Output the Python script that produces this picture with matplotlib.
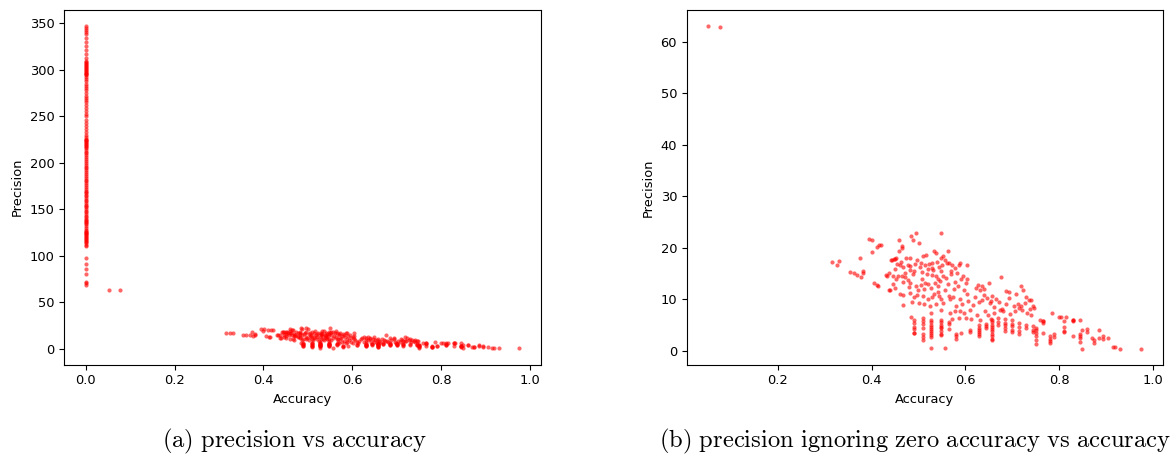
import matplotlib.pyplot as plt

plt.rcParams['mathtext.fontset'] = 'cm'

# precision of runs where accuracy == 0
zero_acc_prec = [69, 70.5, 72, 80.5, 86, 91, 97.5, 110, 112, 114, 115, 116, 117, 118,
                 119, 120, 121, 122, 123, 124, 125, 126, 127, 128, 130, 132, 134, 135,
                 136, 137, 138, 140, 142, 143, 145, 147, 148, 150, 152, 154, 155, 157,
                 159, 160, 162, 164, 165, 167, 169, 170, 172, 174, 176, 178, 180, 182,
                 184, 186, 188, 190, 192, 194, 196, 198, 200, 202, 204, 206, 208, 210,
                 212, 214, 216, 217, 218, 219, 220, 221, 222, 223, 224, 225, 226, 228,
                 230, 233, 236, 240, 243, 246, 250, 253, 256, 259, 262, 265, 268, 270,
                 272, 275, 278, 280, 283, 285, 288, 290, 292, 294, 295, 296, 297, 298,
                 299, 300, 301, 302, 303, 304, 305, 306, 307, 308, 310, 313, 317, 321,
                 326, 330, 334, 338, 341, 343, 345, 347]

# (accuracy, precision) for non-zero accuracy
outliers = [(0.052, 63.0), (0.0775, 62.8)]
low_acc = [(0.316, 17.2), (0.326, 16.6), (0.331, 17.4), (0.355, 15.2), (0.362, 15.0),
           (0.369, 14.7), (0.375, 17.9), (0.381, 15.0), (0.382, 15.5), (0.377, 14.2),
           (0.395, 21.6), (0.402, 21.4), (0.400, 19.1), (0.405, 13.2), (0.412, 12.8),
           (0.411, 20.2), (0.417, 20.6), (0.421, 20.5), (0.414, 12.6), (0.431, 14.6),
           (0.432, 14.5), (0.437, 11.8), (0.440, 11.7), (0.444, 17.6), (0.450, 17.7),
           (0.453, 17.9), (0.442, 17.5), (0.447, 17.7)]
upper_band = [(0.495, 22.8), (0.485, 22.3), (0.488, 21.4), (0.549, 22.8), (0.459, 21.5),
              (0.501, 20.8), (0.465, 20.3), (0.466, 19.9), (0.533, 19.4), (0.537, 19.0),
              (0.564, 19.4), (0.459, 19.4), (0.474, 17.9), (0.482, 17.9), (0.497, 17.6),
              (0.510, 18.3), (0.517, 18.6), (0.505, 17.0), (0.514, 16.6), (0.529, 17.0),
              (0.540, 17.2), (0.548, 17.9), (0.553, 18.3), (0.557, 17.6), (0.566, 17.0),
              (0.572, 16.6), (0.586, 16.6), (0.589, 17.0), (0.603, 16.6), (0.461, 16.6),
              (0.468, 16.3), (0.477, 16.6), (0.483, 16.5), (0.450, 15.8), (0.438, 15.0),
              (0.446, 14.5), (0.457, 14.4), (0.465, 14.4), (0.472, 15.0), (0.482, 15.7),
              (0.491, 15.4), (0.508, 15.2), (0.521, 15.8), (0.529, 16.0), (0.544, 16.3),
              (0.548, 15.4), (0.553, 14.4), (0.559, 14.1), (0.570, 15.4), (0.570, 14.9),
              (0.582, 15.0), (0.595, 14.4), (0.603, 13.9), (0.676, 14.3), (0.529, 14.7),
              (0.538, 14.4), (0.452, 13.9), (0.477, 13.7), (0.455, 16.9), (0.463, 17.3),
              (0.471, 14.2), (0.488, 14.8), (0.493, 16.9), (0.503, 16.2), (0.507, 14.0),
              (0.518, 14.9), (0.523, 16.8), (0.532, 15.6), (0.541, 14.0), (0.546, 13.5),
              (0.551, 16.6), (0.561, 17.1), (0.579, 16.0), (0.591, 13.9)]
mid_band = [(0.468, 13.4), (0.483, 13.1), (0.495, 12.6), (0.505, 12.8), (0.514, 13.1),
            (0.521, 13.0), (0.535, 13.2), (0.542, 12.5), (0.446, 13.0), (0.450, 12.1),
            (0.578, 13.4), (0.584, 12.5), (0.601, 13.1), (0.627, 12.8), (0.635, 12.6),
            (0.631, 11.8), (0.639, 11.9), (0.650, 13.1), (0.718, 12.5), (0.723, 11.7),
            (0.686, 11.5), (0.694, 11.3), (0.461, 11.0), (0.467, 10.8), (0.482, 11.2),
            (0.490, 10.5), (0.497, 10.8), (0.510, 10.6), (0.520, 10.0), (0.529, 10.5),
            (0.542, 11.3), (0.544, 10.6), (0.548, 10.0), (0.565, 10.6), (0.573, 10.4),
            (0.588, 10.0), (0.603, 11.0), (0.620, 10.5), (0.646, 10.2), (0.657, 10.6),
            (0.666, 10.0), (0.694, 10.2), (0.729, 10.5), (0.735, 9.9), (0.741, 9.9),
            (0.479, 12.4), (0.499, 11.7), (0.513, 11.9), (0.527, 12.2), (0.534, 11.0),
            (0.556, 11.7), (0.563, 12.9), (0.567, 10.0), (0.575, 12.0), (0.598, 11.7),
            (0.623, 12.1), (0.641, 10.8), (0.709, 11.0)]
lower_band = [(0.468, 8.9), (0.487, 9.5), (0.502, 9.2), (0.512, 9.1), (0.525, 8.7),
              (0.537, 9.1), (0.552, 9.2), (0.581, 8.7), (0.593, 9.1), (0.630, 9.5),
              (0.635, 9.9), (0.652, 9.2), (0.713, 9.1), (0.718, 8.6), (0.745, 8.7),
              (0.485, 6.6), (0.510, 6.3), (0.527, 7.3), (0.548, 7.9), (0.568, 7.4),
              (0.578, 7.6), (0.589, 7.6), (0.597, 7.3), (0.611, 7.8), (0.626, 7.0),
              (0.643, 7.6), (0.649, 7.0), (0.662, 7.3), (0.674, 7.9), (0.681, 7.6),
              (0.696, 7.2), (0.707, 7.6), (0.715, 8.3), (0.722, 7.9), (0.732, 7.4),
              (0.741, 7.0), (0.747, 8.3), (0.571, 6.1), (0.586, 6.3), (0.601, 6.3),
              (0.612, 6.1), (0.631, 6.0), (0.656, 6.1), (0.669, 6.3), (0.684, 6.1),
              (0.699, 6.0), (0.760, 6.0), (0.765, 5.7), (0.786, 7.3), (0.800, 6.6),
              (0.805, 6.6), (0.816, 6.6), (0.831, 6.0), (0.845, 6.0), (0.606, 9.7),
              (0.616, 8.8), (0.655, 9.6), (0.661, 8.5), (0.671, 9.4), (0.678, 8.1),
              (0.688, 9.0), (0.703, 8.6), (0.727, 9.3), (0.738, 8.1)]

# vertical stripes of low precision at recurring accuracy values
stripe_acc = [0.49, 0.51, 0.528, 0.548, 0.556, 0.565, 0.58, 0.59, 0.61, 0.63, 0.645,
              0.658, 0.67, 0.685, 0.70, 0.715, 0.73, 0.745, 0.75, 0.765, 0.78, 0.79,
              0.81, 0.83, 0.845, 0.85, 0.86, 0.87, 0.875, 0.885, 0.895, 0.905, 0.915,
              0.92, 0.93, 0.975]
stripe_prec = [[5.9, 5.3, 4.6, 4.2, 3.4, 3.5],
               [5.8, 5.2, 4.4, 3.3, 2.7, 2.1],
               [6.0, 5.5, 5.0, 4.6, 4.2, 3.8, 3.4, 3.0, 2.6, 0.6],
               [6.0, 5.5, 5.0, 4.6, 4.3, 3.9, 3.3, 3.0],
               [0.5],
               [5.6, 5.1, 4.2],
               [2.8, 2.3, 3.3],
               [3.4],
               [4.0, 3.6],
               [5.0, 4.4, 4.0, 3.6, 3.2, 2.9],
               [5.2, 4.7, 4.3],
               [6.0, 5.5, 5.0, 4.6, 4.2, 3.8, 3.3, 2.8, 2.3, 2.0],
               [5.5, 4.9],
               [5.3, 4.9, 4.3, 3.9],
               [5.2, 4.7, 4.1, 3.7],
               [5.4, 4.6, 3.9, 3.3],
               [5.0, 4.4],
               [4.8, 4.1, 3.6],
               [4.4, 4.0, 3.5, 2.8, 2.1, 1.3],
               [5.8, 5.3, 3.5],
               [2.8, 2.3, 1.8, 1.4],
               [3.3, 2.7],
               [5.8, 4.6, 3.8, 3.6],
               [5.9, 5.7, 2.8],
               [3.2, 2.9, 2.5, 1.6],
               [0.4, 4.1],
               [4.2, 3.6],
               [2.4],
               [2.1, 1.5],
               [4.0, 2.5],
               [2.8, 2.3],
               [2.4],
               [0.8],
               [0.8],
               [0.4],
               [0.4]]

pairs = outliers + low_acc + upper_band + mid_band + lower_band
for a, ps in zip(stripe_acc, stripe_prec):
    pairs += [(a, p) for p in ps]
acc = [p[0] for p in pairs]
prec = [p[1] for p in pairs]

W, H = 1175, 458
fig = plt.figure(figsize=(W / 100, H / 100), dpi=100)
ax_a = fig.add_axes([64 / W, 1 - 364.5 / H, 476.5 / W, 354.5 / H])
ax_b = fig.add_axes([686.8 / W, 1 - 364.7 / H, 475.8 / W, 354.7 / H])

dot = dict(s=9, c='red', alpha=0.6, linewidths=0)
ax_a.scatter([0.0] * len(zero_acc_prec) + acc, zero_acc_prec + prec, **dot)
ax_b.scatter(acc, prec, **dot)

for ax in (ax_a, ax_b):
    ax.set_xlabel('Accuracy', fontsize=9.4)
    ax.set_ylabel('Precision', fontsize=9.4)
    ax.tick_params(labelsize=9.4)
ax_a.set_xticks([0.0, 0.2, 0.4, 0.6, 0.8, 1.0])
ax_b.set_xticks([0.2, 0.4, 0.6, 0.8, 1.0])

fig.text(294 / W, 1 - 441 / H, r'$\mathrm{(a)\ precision\ vs\ accuracy}$',
         ha='center', va='center', fontsize=17.7)
fig.text(915.5 / W, 1 - 441 / H,
         r'$\mathrm{(b)\ precision\ ignoring\ zero\ accuracy\ vs\ accuracy}$',
         ha='center', va='center', fontsize=17.7)

fig.savefig('out.png', dpi=100)
